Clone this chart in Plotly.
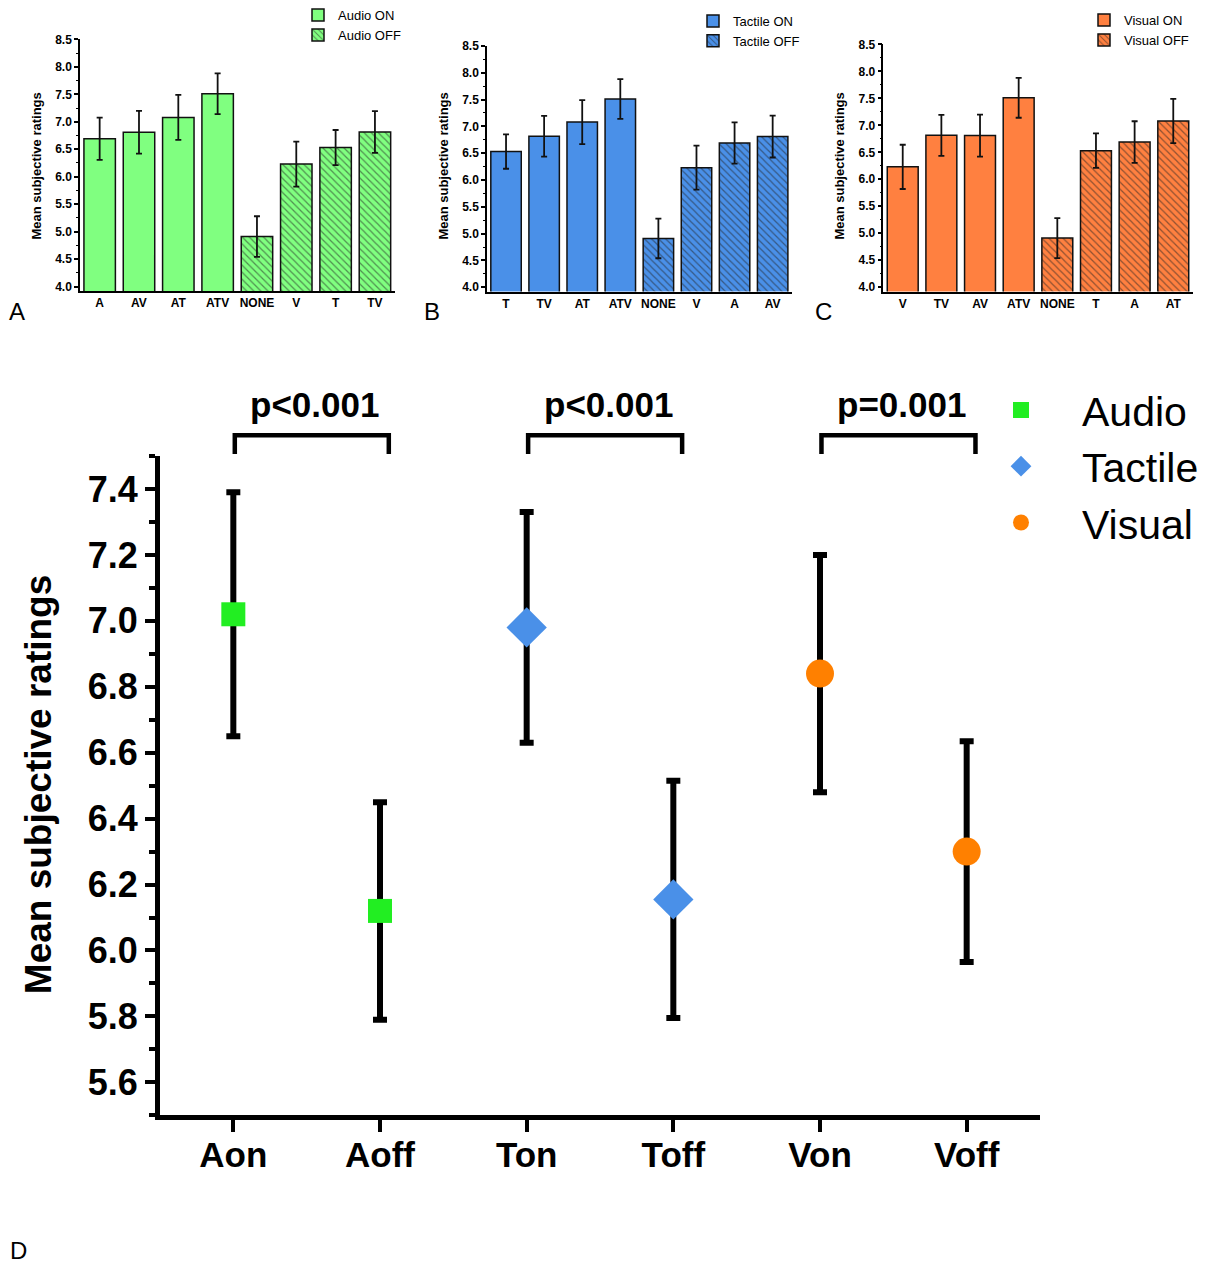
import plotly.graph_objects as go

FIG_W, FIG_H = 1226, 1264
FONT = "Liberation Sans, Arial, sans-serif"

# ---------------- data ----------------
# Panel A (Audio)
a_on_cats = ["A", "AV", "AT", "ATV"]
a_on_vals = [6.69, 6.81, 7.08, 7.51]
a_on_err = [0.385, 0.39, 0.41, 0.37]
a_off_cats = ["NONE", "V", "T", "TV"]
a_off_vals = [4.91, 6.23, 6.53, 6.815]
a_off_err = [0.37, 0.41, 0.32, 0.38]

# Panel B (Tactile)
b_on_cats = ["T", "TV", "AT", "ATV"]
b_on_vals = [6.53, 6.815, 7.08, 7.51]
b_on_err = [0.32, 0.38, 0.41, 0.37]
b_off_cats = ["NONE", "V", "A", "AV"]
b_off_vals = [4.91, 6.23, 6.69, 6.81]
b_off_err = [0.37, 0.41, 0.385, 0.39]

# Panel C (Visual)
c_on_cats = ["V", "TV", "AV", "ATV"]
c_on_vals = [6.23, 6.815, 6.81, 7.51]
c_on_err = [0.41, 0.38, 0.39, 0.37]
c_off_cats = ["NONE", "T", "A", "AT"]
c_off_vals = [4.91, 6.53, 6.69, 7.08]
c_off_err = [0.37, 0.32, 0.385, 0.41]

# Panel D
d_cats = ["Aon", "Aoff", "Ton", "Toff", "Von", "Voff"]
audio_cats = ["Aon", "Aoff"]
audio_vals = [7.02, 6.12]
audio_err = [0.37, 0.33]
tactile_cats = ["Ton", "Toff"]
tactile_vals = [6.98, 6.155]
tactile_err = [0.35, 0.36]
visual_cats = ["Von", "Voff"]
visual_vals = [6.84, 6.30]
visual_err = [0.36, 0.335]
comparisons = [("Aon", "Aoff", "p<0.001"), ("Ton", "Toff", "p<0.001"), ("Von", "Voff", "p=0.001")]


# ---------------- helpers ----------------
def px_x(p):
    return p / FIG_W


def px_y(p):
    return 1 - p / FIG_H


fig = go.Figure()

panels = [
    ("x", "y", "legend", "Audio", "#80FF80",
     a_on_cats, a_on_vals, a_on_err, a_off_cats, a_off_vals, a_off_err),
    ("x2", "y2", "legend2", "Tactile", "#4A90E8",
     b_on_cats, b_on_vals, b_on_err, b_off_cats, b_off_vals, b_off_err),
    ("x3", "y3", "legend3", "Visual", "#FF8040",
     c_on_cats, c_on_vals, c_on_err, c_off_cats, c_off_vals, c_off_err),
]

for xa, ya, lg, name, col, on_c, on_v, on_e, off_c, off_v, off_e in panels:
    fig.add_trace(go.Bar(
        x=on_c, y=on_v, name=f"{name} ON", xaxis=xa, yaxis=ya, legend=lg,
        width=0.8, marker=dict(color=col, line=dict(color="#111", width=1.5)),
        error_y=dict(type="data", array=on_e, color="#111", thickness=1.8, width=3),
    ))
    fig.add_trace(go.Bar(
        x=off_c, y=off_v, name=f"{name} OFF", xaxis=xa, yaxis=ya, legend=lg,
        width=0.8,
        marker=dict(color=col, line=dict(color="#111", width=1.5),
                    pattern=dict(shape="\\", size=5, solidity=0.25,
                                 fgcolor="#222222", bgcolor=col)),
        error_y=dict(type="data", array=off_e, color="#111", thickness=1.8, width=3),
    ))

# Panel D traces
d_series = [
    ("Audio", audio_cats, audio_vals, audio_err, "square", "#22EE22", 24),
    ("Tactile", tactile_cats, tactile_vals, tactile_err, "diamond", "#4A90E8", 31),
    ("Visual", visual_cats, visual_vals, visual_err, "circle", "#FF8000", 28),
]
for name, cats, vals, errs, sym, col, sz in d_series:
    fig.add_trace(go.Scatter(
        x=cats, y=vals, name=name, mode="markers", xaxis="x4", yaxis="y4",
        legend="legend4",
        marker=dict(symbol=sym, color=col, size=sz, line=dict(width=0)),
        error_y=dict(type="data", array=errs, color="black", thickness=6, width=7),
    ))

# ---------------- axes ----------------
top_domains = {
    "A": ([80, 394.6], [285.4, 31.7]),
    "B": ([487, 791.7], [286, 38.3]),
    "C": ([883.4, 1192.6], [286, 36.7]),
}
tickfont_small = dict(family=FONT, size=12, color="black", weight="bold")
layout_axes = {}
for i, key in enumerate(["A", "B", "C"]):
    (x0, x1), (yb, yt) = top_domains[key]
    sfx = "" if i == 0 else str(i + 1)
    cats = [panels[i][5], panels[i][8]]
    layout_axes[f"xaxis{sfx}"] = dict(
        domain=[px_x(x0), px_x(x1)], anchor=f"y{sfx}",
        type="category", categoryorder="array", categoryarray=cats[0] + cats[1],
        range=[-0.5, 7.5], showline=True, linecolor="black", linewidth=1.5,
        ticks="", showgrid=False, tickfont=tickfont_small, fixedrange=True,
    )
    layout_axes[f"yaxis{sfx}"] = dict(
        domain=[px_y(yb), px_y(yt)], anchor=f"x{sfx}",
        range=[3.92, 8.5], tick0=4.0, dtick=0.5, tickformat=".1f",
        showline=True, linecolor="black", linewidth=1.5,
        ticks="outside", ticklen=4, tickwidth=1.5, tickcolor="black",
        minor=dict(ticks="outside", ticklen=2, tickwidth=1, tick0=4.0, dtick=0.25,
                   tickcolor="black"),
        showgrid=False, zeroline=False, tickfont=tickfont_small, fixedrange=True,
    )

layout_axes["xaxis4"] = dict(
    domain=[px_x(160), px_x(1040)], anchor="y4",
    type="category", categoryorder="array", categoryarray=d_cats,
    range=[-0.5, 5.5], showline=True, linecolor="black", linewidth=5,
    ticks="outside", ticklen=12, tickwidth=4, tickcolor="black",
    ticklabelstandoff=-7,
    showgrid=False, tickfont=dict(family=FONT, size=35, color="black", weight="bold"),
)
layout_axes["yaxis4"] = dict(
    domain=[px_y(1117), px_y(452)], anchor="x4",
    range=[5.5, 7.5], tick0=5.6, dtick=0.2, tickformat=".1f",
    showline=True, linecolor="black", linewidth=5,
    ticks="outside", ticklen=10, tickwidth=4, tickcolor="black",
    minor=dict(ticks="outside", ticklen=6, tickwidth=4, tick0=5.5, dtick=0.1,
               tickcolor="black"),
    showgrid=False, zeroline=False,
    tickfont=dict(family=FONT, size=36, color="black", weight="bold"),
)

# ---------------- annotations ----------------
annotations = []
for xc in [37, 444, 840]:
    annotations.append(dict(
        text="Mean subjective ratings", textangle=-90, xref="paper", yref="paper",
        x=px_x(xc), y=px_y(160), showarrow=False, xanchor="center", yanchor="middle",
        font=dict(family=FONT, size=13, color="black", weight="bold"),
    ))
annotations.append(dict(
    text="Mean subjective ratings", textangle=-90, xref="paper", yref="paper",
    x=px_x(38), y=px_y(784), showarrow=False, xanchor="center", yanchor="middle",
    font=dict(family=FONT, size=37, color="black", weight="bold"),
))
for lbl, xc, yc in [("A", 17, 306), ("B", 432, 306), ("C", 823, 306), ("D", 18, 1253)]:
    annotations.append(dict(
        text=lbl, xref="paper", yref="paper", x=px_x(xc), y=px_y(yc),
        showarrow=False, xanchor="center", yanchor="middle",
        font=dict(family=FONT, size=24, color="black"),
    ))

shapes = []
for left, right, ptxt in comparisons:
    i0 = d_cats.index(left)
    i1 = d_cats.index(right)
    xl, xr = i0 + 0.01, i1 + 0.06
    yh, yl = px_y(431), px_y(450)
    shapes.append(dict(
        type="path", xref="x4", yref="paper",
        path=f"M {xl} {yl} L {xl} {yh} L {xr} {yh} L {xr} {yl}",
        line=dict(color="black", width=4.5),
    ))
    annotations.append(dict(
        text=ptxt, xref="x4", yref="paper", x=(xl + xr) / 2 + 0.02, y=px_y(400),
        showarrow=False, xanchor="center", yanchor="middle",
        font=dict(family=FONT, size=35, color="black", weight="bold"),
    ))

leg_small = dict(
    font=dict(family=FONT, size=13, color="black"),
    bgcolor="rgba(0,0,0,0)", borderwidth=0, xanchor="left", yanchor="top",
    tracegroupgap=0, itemclick=False, itemdoubleclick=False,
)

fig.update_layout(
    width=FIG_W, height=FIG_H,
    margin=dict(l=0, r=0, t=0, b=0),
    paper_bgcolor="white", plot_bgcolor="white",
    barmode="overlay",
    showlegend=True,
    legend=dict(x=px_x(298), y=px_y(-8), **leg_small),
    legend2=dict(x=px_x(693), y=px_y(-2), **leg_small),
    legend3=dict(x=px_x(1084), y=px_y(-3), **leg_small),
    legend4=dict(
        x=px_x(960), y=px_y(372), xanchor="left", yanchor="top",
        font=dict(family=FONT, size=41, color="black"),
        bgcolor="rgba(0,0,0,0)", borderwidth=0, itemwidth=112,
        itemclick=False, itemdoubleclick=False,
    ),
    annotations=annotations,
    shapes=shapes,
    **layout_axes,
)

fig.write_html("out.html")
